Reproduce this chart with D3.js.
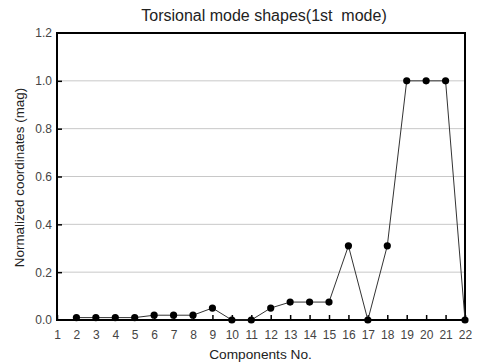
<!DOCTYPE html>
<html>
  <head>
    <title>Torsional mode shapes</title>
    <script src="https://cdn.jsdelivr.net/npm/d3@7"></script>
    <style>
      body { margin: 0; background: #fff; }
      text { font-family: "Liberation Sans", Arial, sans-serif; }
    </style>
  </head>
  <body>
    <svg width="481" height="364" id="mainsvg"></svg>
    <script>
      // data
      const components = [2, 3, 4, 5, 6, 7, 8, 9, 10, 11, 12, 13, 14, 15, 16, 17, 18, 19, 20, 21, 22];
      const values = [0.01, 0.01, 0.01, 0.01, 0.02, 0.02, 0.02, 0.05, 0, 0, 0.05, 0.075, 0.075, 0.075, 0.31, 0, 0.31, 1.0, 1.0, 1.0, 0];
      const xTicks = d3.range(1, 23);
      const yTicks = [0, 0.2, 0.4, 0.6, 0.8, 1.0, 1.2];

      const svg = d3.select('#mainsvg');
      const margin = {top: 33, right: 16, bottom: 44, left: 57};
      const width = +svg.attr('width');
      const height = +svg.attr('height');
      const innerWidth = width - margin.left - margin.right;
      const innerHeight = height - margin.top - margin.bottom;

      const xScale = d3.scaleLinear().domain([1, 22]).range([0, innerWidth]);
      const yScale = d3.scaleLinear().domain([0, 1.2]).range([innerHeight, 0]);

      const g = svg.append('g')
        .attr('transform', `translate(${margin.left}, ${margin.top})`);

      // grid lines
      g.selectAll('.grid')
        .data(yTicks.filter(d => d > 0 && d < 1.2))
        .enter().append('line')
        .attr('x1', 0).attr('x2', innerWidth)
        .attr('y1', d => yScale(d)).attr('y2', d => yScale(d))
        .attr('stroke', '#c8c8c8').attr('stroke-width', 1);

      // y axis, ticks pointing inward
      const yAxis = d3.axisRight(yScale).tickValues(yTicks).tickFormat(d3.format('.1f')).tickSize(5);
      const yAxisGroup = g.append('g').call(yAxis);
      yAxisGroup.select('.domain').remove();
      yAxisGroup.selectAll('text').attr('text-anchor', 'end').attr('x', -5)
        .attr('font-size', 12).attr('fill', '#444');
      yAxisGroup.selectAll('line').attr('stroke', '#000').attr('stroke-width', 1.5);
      yAxisGroup.selectAll('.tick').filter(d => d === 1.2 || d === 0).select('line').remove();

      // x axis, ticks pointing up
      const xAxis = d3.axisTop(xScale).tickValues(xTicks).tickFormat(d3.format('d')).tickSize(5);
      const xAxisGroup = g.append('g').attr('transform', `translate(0, ${innerHeight})`).call(xAxis);
      xAxisGroup.select('.domain').remove();
      xAxisGroup.selectAll('text').attr('y', 19).attr('dy', 0)
        .attr('font-size', 12).attr('fill', '#444');
      xAxisGroup.selectAll('line').attr('stroke', '#000').attr('stroke-width', 1.5);

      // frame
      g.append('rect')
        .attr('width', innerWidth).attr('height', innerHeight)
        .attr('fill', 'none').attr('stroke', '#000').attr('stroke-width', 2);

      // line and markers
      const pts = components.map((c, i) => ({c: c, v: values[i]}));
      const line = d3.line().x(d => xScale(d.c)).y(d => yScale(d.v));
      g.append('path').datum(pts)
        .attr('d', line).attr('fill', 'none')
        .attr('stroke', '#333').attr('stroke-width', 1);
      g.selectAll('circle').data(pts).enter().append('circle')
        .attr('cx', d => xScale(d.c)).attr('cy', d => yScale(d.v))
        .attr('r', 3.6).attr('fill', '#000');

      // titles
      svg.append('text').text('Torsional mode shapes(1st\u00a0 mode)')
        .attr('x', 264).attr('y', 21).attr('text-anchor', 'middle')
        .attr('font-size', 16).attr('fill', '#222');
      svg.append('text').text('Components No.')
        .attr('x', 260.5).attr('y', 359).attr('text-anchor', 'middle')
        .attr('font-size', 13.7).attr('fill', '#222');
      svg.append('text').text('Normalized coordinates (mag)')
        .attr('transform', `translate(24, 177.5) rotate(-90)`)
        .attr('text-anchor', 'middle')
        .attr('font-size', 13.4).attr('fill', '#222');
    </script>
  </body>
</html>
